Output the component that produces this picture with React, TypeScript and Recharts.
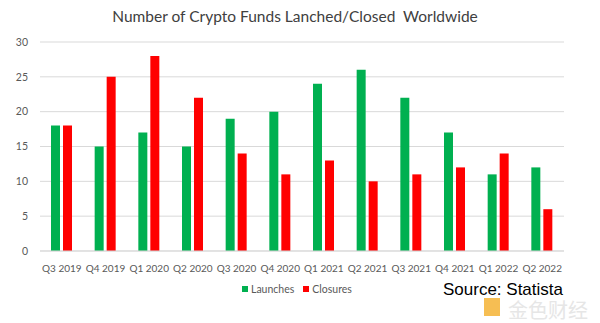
import React from "react";
import { BarChart, Bar, XAxis, YAxis, CartesianGrid } from "recharts";

const quarters = ["Q3 2019", "Q4 2019", "Q1 2020", "Q2 2020", "Q3 2020", "Q4 2020", "Q1 2021", "Q2 2021", "Q3 2021", "Q4 2021", "Q1 2022", "Q2 2022"];
const launches = [18, 15, 17, 15, 19, 20, 24, 26, 22, 17, 11, 12];
const closures = [18, 25, 28, 22, 14, 11, 13, 10, 11, 12, 14, 6];
const yTicks = [0, 5, 10, 15, 20, 25, 30];
const seriesNames = ["Launches", "Closures"];
const seriesColors = ["#00b050", "#ff0000"];

const data = quarters.map((q, i) => ({ q, Launches: launches[i], Closures: closures[i] }));

const FONT = "Lato, 'Open Sans', 'Liberation Sans', sans-serif";

export default function App() {
  return (
    <div style={{ position: "absolute", left: 0, top: 0, width: 600, height: 323, background: "#fff", fontFamily: FONT }}>
      <div style={{ position: "absolute", top: 7, left: 0, width: 590, textAlign: "center", fontSize: 15.5, color: "#404040" }}>
        Number of Crypto Funds Lanched/Closed&nbsp; Worldwide
      </div>
      <BarChart width={600} height={323} data={data} margin={{ top: 42, right: 36, left: 0, bottom: 42 }} barGap={3} barSize={9}>
        <CartesianGrid vertical={false} stroke="#d9d9d9" />
        <XAxis dataKey="q" axisLine={{ stroke: "#d9d9d9" }} tickLine={false} tick={{ fontSize: 10, fill: "#595959", fontFamily: FONT }} interval={0} height={30} tickMargin={8} />
        <YAxis domain={[0, 30]} ticks={yTicks} axisLine={false} tickLine={false} tick={{ fontSize: 10.5, fill: "#595959", fontFamily: FONT }} width={40} tickMargin={6} />
        <Bar dataKey="Launches" fill={seriesColors[0]} isAnimationActive={false} />
        <Bar dataKey="Closures" fill={seriesColors[1]} isAnimationActive={false} />
      </BarChart>
      <div style={{ position: "absolute", left: 242, top: 283, display: "flex", fontSize: 10.5, color: "#595959" }}>
        {seriesNames.map((n, i) => (
          <div key={n} style={{ display: "flex", alignItems: "center", marginRight: 9 }}>
            <div style={{ width: 6, height: 6, background: seriesColors[i], marginRight: 3 }} />
            <span>{n}</span>
          </div>
        ))}
      </div>
      <div style={{ position: "absolute", left: 443, top: 280, fontSize: 17, color: "#000", fontFamily: "'Liberation Sans', sans-serif" }}>
        Source: Statista
      </div>
      <div style={{ position: "absolute", left: 508, top: 295, fontSize: 20, color: "#e6e6e6", fontFamily: "'Noto Sans CJK SC', sans-serif" }}>
        金色财经
      </div>
      <div style={{ position: "absolute", left: 484, top: 298, width: 16, height: 18, background: "#f5b335", opacity: 0.85 }} />
    </div>
  );
}
